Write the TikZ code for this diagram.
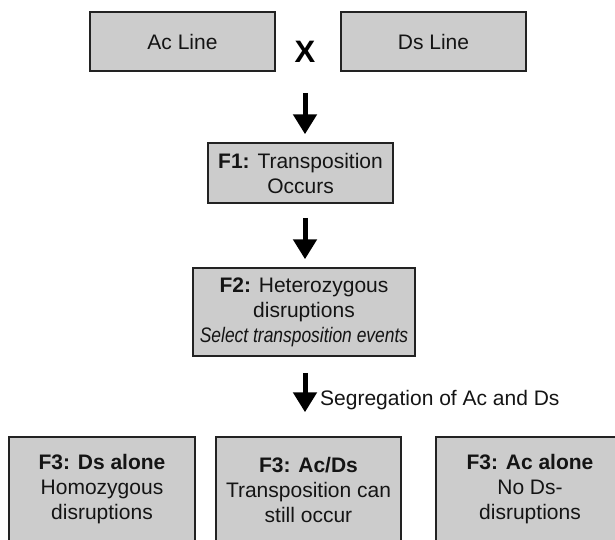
\documentclass[tikz,border=0pt]{standalone}
\usepackage{fontspec}
\setmainfont{Liberation Sans}
\usepackage{graphicx}
\usetikzlibrary{arrows.meta}
\definecolor{boxfill}{RGB}{204,204,204}
\definecolor{boxline}{RGB}{34,34,34}
\definecolor{ink}{RGB}{20,20,20}
\begin{document}
\begin{tikzpicture}[x=1pt,y=-1pt,
  box/.style={draw=boxline, line width=1.5pt, fill=boxfill, rectangle, inner sep=0pt,
    align=center, text=ink, font=\fontsize{21}{25}\selectfont},
  flow/.style={-{Triangle[width=23pt,length=20pt]}, line width=5pt, black},
  lbl/.style={inner sep=0pt, text=ink, font=\fontsize{21}{25}\selectfont}]
\useasboundingbox (0,0) rectangle (615,539);
% top row
\node[box, minimum width=185pt, minimum height=59pt] (ac) at (182.5,41.5) {Ac Line};
\node[box, minimum width=185pt, minimum height=59pt] (ds) at (433.5,41.5) {Ds Line};
\node[inner sep=0pt, text=black, font=\fontsize{31}{31}\selectfont\bfseries] (x) at (305,52) {X};
% F1, F2
\node[box, minimum width=185pt, minimum height=60pt] (f1) at (300.5,173) {{\bfseries F1:} Transposition\\Occurs};
\node[box, minimum width=222pt, minimum height=88pt] (f2) at (304,312)
  {{\bfseries F2:} Heterozygous\\disruptions\\\scalebox{0.83}[1]{\itshape Select transposition events}};
% F3 row
\node[box, minimum width=186pt, minimum height=105pt] (f3a) at (102,489.5)
  {\bfseries F3: Ds alone\\Homozygous\\disruptions};
\node[box, minimum width=185pt, minimum height=105pt] (f3b) at (308.5,489.5)
  {\bfseries F3: Ac/Ds\\Transposition can\\still occur};
\node[box, minimum width=188pt, minimum height=105pt] (f3c) at (530,489.5)
  {\bfseries F3: Ac alone\\No Ds-\\disruptions};
% arrows
\draw[flow, shorten <=30pt, shorten >=8pt] (x.south) -- (x.south |- f1.north);
\draw[flow, shorten <=14pt, shorten >=8pt] (x.south |- f1.south) -- (x.south |- f2.north);
\draw[flow, shorten <=16pt, shorten >=24pt] (x.south |- f2.south) -- (x.south |- f3b.north);
\node[lbl, anchor=base west] (seg) at (320,405) {Segregation of Ac and Ds};
\end{tikzpicture}
\end{document}
